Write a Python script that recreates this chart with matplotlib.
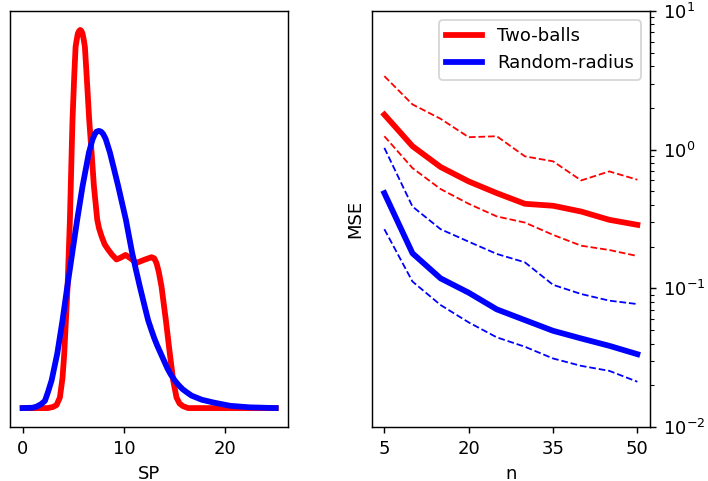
import matplotlib
matplotlib.use("Agg")
import matplotlib.pyplot as plt

# left panel: densities of SP (heights relative to the red peak, y axis is hidden)
sp_red = [0, 2.5, 3.0, 3.35, 3.68, 3.94, 4.11, 4.44, 4.67, 4.84, 4.93, 5.1, 5.23,
          5.35, 5.45, 5.57, 5.69, 5.81, 5.92, 6.03, 6.15, 6.3, 6.57, 6.81, 7.04,
          7.37, 7.55, 7.80, 8.1, 8.45, 8.85, 9.27, 9.7, 10.17, 10.7, 11.25, 12.0,
          12.73, 13.0, 13.23, 13.45, 13.72, 14.15, 14.54, 14.87, 15.2, 15.5, 15.85,
          16.35, 25]
density_red = [0, 0, 0.003, 0.008, 0.028, 0.08, 0.144, 0.321, 0.498, 0.676, 0.765,
               0.88, 0.955, 0.975, 0.99, 0.997, 1.0, 0.997, 0.99, 0.975, 0.955,
               0.89, 0.765, 0.676, 0.587, 0.498, 0.475, 0.454, 0.433, 0.419, 0.405,
               0.393, 0.398, 0.405, 0.395, 0.384, 0.392, 0.399, 0.396, 0.383, 0.36,
               0.321, 0.232, 0.144, 0.073, 0.028, 0.012, 0.005, 0, 0]

sp_blue = [0, 1.0, 1.38, 1.8, 2.2, 2.5, 2.86, 3.42, 3.94, 4.41, 4.90, 5.39, 5.92,
           6.55, 6.9, 7.14, 7.3, 7.53, 7.75, 7.95, 8.2, 8.62, 9.0, 9.44, 10.2,
           10.82, 11.2, 11.58, 12.0, 12.4, 12.7, 13.0, 13.3, 13.65, 14.0, 14.3,
           14.65, 15.03, 15.4, 15.8, 16.2, 16.68, 17.7, 18.8, 20.5, 22.4, 25]
density_blue = [0, 0.001, 0.004, 0.01, 0.019, 0.042, 0.073, 0.144, 0.232, 0.321,
                0.410, 0.498, 0.587, 0.676, 0.71, 0.725, 0.731, 0.733, 0.731,
                0.725, 0.712, 0.676, 0.635, 0.587, 0.498, 0.410, 0.365, 0.321,
                0.275, 0.232, 0.208, 0.185, 0.165, 0.144, 0.123, 0.105, 0.088,
                0.073, 0.061, 0.05, 0.042, 0.033, 0.022, 0.015, 0.006, 0.002, 0]

# right panel: MSE vs n, mean with lower/upper bands
n = [5, 10, 15, 20, 25, 30, 35, 40, 45, 50]
mse_two_balls = [1.79, 1.06, 0.75, 0.59, 0.486, 0.407, 0.394, 0.358, 0.312, 0.287]
two_balls_upper = [3.39, 2.12, 1.67, 1.23, 1.25, 0.895, 0.824, 0.60, 0.697, 0.607]
two_balls_lower = [1.25, 0.737, 0.52, 0.407, 0.33, 0.298, 0.243, 0.203, 0.189, 0.171]
mse_random_radius = [0.486, 0.179, 0.118, 0.093, 0.0705, 0.059, 0.0494, 0.0435,
                     0.0385, 0.0335]
random_radius_upper = [1.03, 0.389, 0.267, 0.217, 0.177, 0.154, 0.106, 0.091,
                       0.0815, 0.077]
random_radius_lower = [0.267, 0.112, 0.0758, 0.0568, 0.0443, 0.0379, 0.0312,
                       0.0276, 0.0254, 0.0212]

dpi = 130
figure = plt.figure(figsize=(708 / dpi, 481 / dpi), dpi=dpi)
axis_left = figure.add_axes([0.0141, 0.1123, 0.3932, 0.8648])
axis_right = figure.add_axes([0.5250, 0.1123, 0.3931, 0.8648])

axis_left.plot(sp_red, density_red, color="red", linewidth=3.2, solid_joinstyle="round")
axis_left.plot(sp_blue, density_blue, color="blue", linewidth=3.2, solid_joinstyle="round")
axis_left.set_yticks([])
axis_left.set_xticks([0, 10, 20])
axis_left.set_xlabel("SP")

axis_right.plot(n, mse_two_balls, color="red", linewidth=3.2, label="Two-balls")
axis_right.plot(n, mse_random_radius, color="blue", linewidth=3.2, label="Random-radius")
axis_right.plot(n, two_balls_upper, color="red", linestyle="--", linewidth=1.0)
axis_right.plot(n, two_balls_lower, color="red", linestyle="--", linewidth=1.0)
axis_right.plot(n, random_radius_upper, color="blue", linestyle="--", linewidth=1.0)
axis_right.plot(n, random_radius_lower, color="blue", linestyle="--", linewidth=1.0)
axis_right.set_yscale("log")
axis_right.set_ylim(1e-2, 1e1)
axis_right.yaxis.tick_right()
axis_right.set_xticks([5, 20, 35, 50])
axis_right.set_xlabel("n")
axis_right.set_ylabel("MSE")
axis_right.legend(loc="upper right")

figure.savefig("out.png", dpi=dpi)
plt.close(figure)
